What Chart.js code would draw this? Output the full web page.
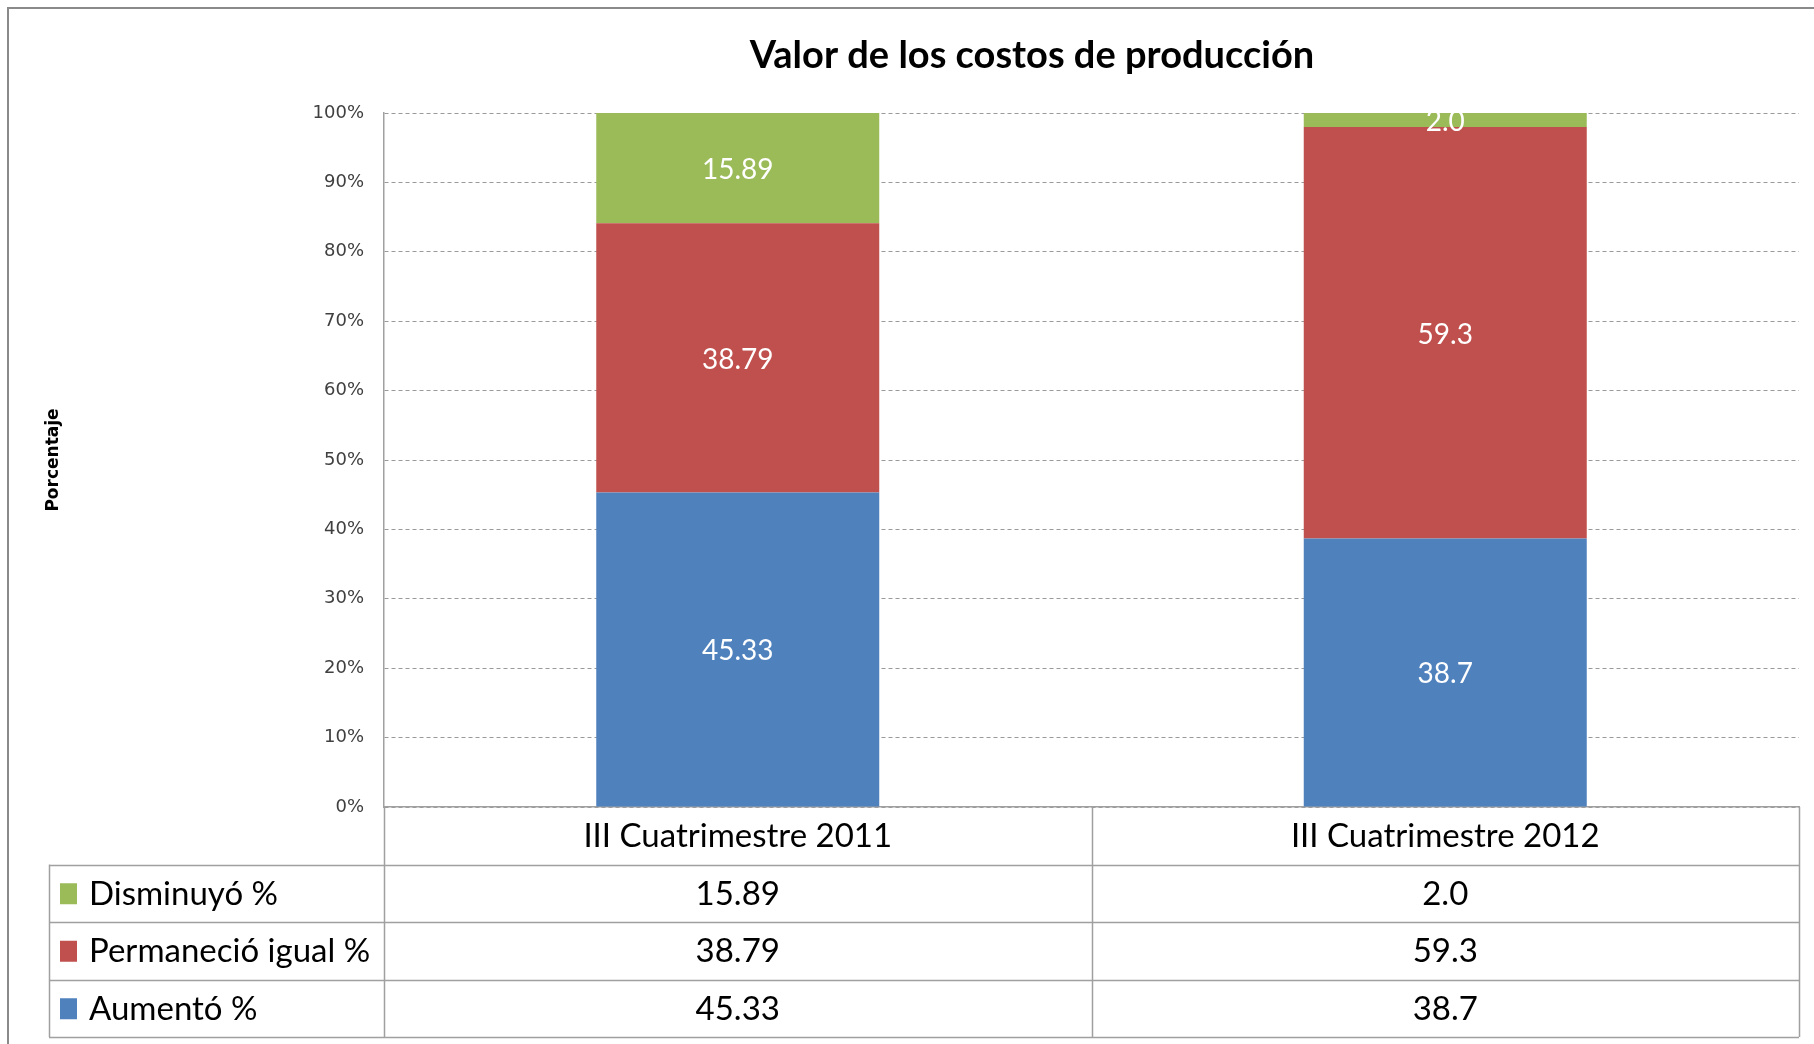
<!DOCTYPE html>
<html>
<head>
<meta charset="utf-8">
<script src="https://cdn.jsdelivr.net/npm/chart.js@4/dist/chart.umd.min.js"></script>
<style>
  html, body { margin: 0; padding: 0; background: #fff; }
  #wrap { position: relative; width: 1814px; height: 1044px; overflow: hidden; }
  #frame { position: absolute; left: 7px; top: 7px; width: 1830px; height: 1060px;
           border-left: 2px solid #8a8a8a; border-top: 2px solid #8a8a8a; }
  #chart { position: absolute; left: 0; top: 0; }
</style>
</head>
<body>
<div id="wrap">
  <div id="frame"></div>
  <canvas id="chart" width="1814" height="1044"></canvas>
</div>
<script>
// chart data
const categories = ['III Cuatrimestre 2011', 'III Cuatrimestre 2012'];
const decimals = [2, 1];
const aumento = [45.33, 38.7];
const permanecio = [38.79, 59.3];
const disminuyo = [15.89, 2.0];
const seriesNames = ['Aumentó %', 'Permaneció igual %', 'Disminuyó %'];
const seriesColors = ['#4f81bd', '#c0504d', '#9bbb59'];
const yTicks = [0, 10, 20, 30, 40, 50, 60, 70, 80, 90, 100];
const chartTitle = 'Valor de los costos de producción';

const BODY_FONT = 'Lato, "Open Sans", sans-serif';
const ROW_H = 57.5;
const GRID_COLOR = '#a0a0a0';

// title sits a bit left of the plot centre, like the original
const titleText = {
    id: 'titleText',
    afterDraw(chart) {
        const ctx = chart.ctx;
        ctx.save();
        ctx.fillStyle = '#000';
        ctx.font = 'bold 38px ' + BODY_FONT;
        ctx.textAlign = 'center';
        ctx.textBaseline = 'middle';
        ctx.fillText(chartTitle, 1032, 56);
        ctx.restore();
    }
};

// white values centred in each stacked segment
const barLabels = {
    id: 'barLabels',
    afterDatasetsDraw(chart) {
        const ctx = chart.ctx;
        ctx.save();
        ctx.fillStyle = '#ffffff';
        ctx.font = '28px ' + BODY_FONT;
        ctx.textAlign = 'center';
        ctx.textBaseline = 'middle';
        chart.data.datasets.forEach((ds, di) => {
            chart.getDatasetMeta(di).data.forEach((bar, i) => {
                let v = ds.data[i];
                ctx.fillText(v.toFixed(decimals[i]), bar.x, (bar.y + bar.base) / 2 + 2);
            });
        });
        ctx.restore();
    }
};

// data table under the x axis, columns follow the category scale
const dataTable = {
    id: 'dataTable',
    afterDraw(chart) {
        const ctx = chart.ctx,
            area = chart.chartArea,
            x = chart.scales.x,
            n = categories.length,
            colW = area.width / n,
            top = area.bottom,
            tableLeft = 49,
            rows = chart.data.datasets.length,
            bottom = top + ROW_H * (rows + 1);
        ctx.save();
        ctx.strokeStyle = GRID_COLOR;
        ctx.lineWidth = 1.5;
        ctx.beginPath();
        // vertical lines
        for (let i = 0; i <= n; i++) {
            let px = Math.round(area.left + i * colW) + 0.5;
            ctx.moveTo(px, top);
            ctx.lineTo(px, bottom);
        }
        ctx.moveTo(tableLeft + 0.5, top + ROW_H);
        ctx.lineTo(tableLeft + 0.5, bottom);
        // horizontal lines
        for (let r = 1; r <= rows + 1; r++) {
            let py = Math.round(top + r * ROW_H) + 0.5;
            ctx.moveTo(tableLeft, py);
            ctx.lineTo(area.right, py);
        }
        ctx.stroke();

        ctx.fillStyle = '#000';
        ctx.font = '33px ' + BODY_FONT;
        ctx.textBaseline = 'middle';
        ctx.textAlign = 'center';
        categories.forEach((c, i) => {
            ctx.fillText(c, x.getPixelForValue(i), top + ROW_H / 2 + 1);
        });
        // rows listed top-down in reverse stack order
        for (let r = 0; r < rows; r++) {
            let di = rows - 1 - r,
                ds = chart.data.datasets[di],
                cy = top + ROW_H * (r + 1.5) + 1;
            ctx.fillStyle = ds.backgroundColor;
            ctx.fillRect(60, cy - 11, 17, 21);
            ctx.fillStyle = '#000';
            ctx.textAlign = 'left';
            ctx.fillText(ds.label, 89, cy);
            ctx.textAlign = 'center';
            ds.data.forEach((v, i) => {
                ctx.fillText(v.toFixed(decimals[i]), x.getPixelForValue(i), cy);
            });
        }
        ctx.restore();
    }
};

const chart = new Chart(document.getElementById('chart'), {
    type: 'bar',
    data: {
        labels: categories,
        datasets: [
            {label: seriesNames[0], data: aumento, backgroundColor: seriesColors[0]},
            {label: seriesNames[1], data: permanecio, backgroundColor: seriesColors[1]},
            {label: seriesNames[2], data: disminuyo, backgroundColor: seriesColors[2]}
        ]
    },
    options: {
        responsive: false,
        animation: false,
        layout: {padding: {left: 0, right: 15, top: 113, bottom: 237}},
        datasets: {
            bar: {barPercentage: 0.4, categoryPercentage: 1, borderWidth: 0}
        },
        plugins: {
            legend: {display: false},
            tooltip: {enabled: false},
            title: {display: false}
        },
        scales: {
            x: {
                stacked: true,
                ticks: {display: false},
                grid: {display: false},
                border: {display: true, color: GRID_COLOR, width: 1.5},
                afterFit(scale) { scale.height = 0; }
            },
            y: {
                stacked: true,
                min: 0,
                max: 100,
                afterBuildTicks(scale) { scale.ticks = yTicks.map(v => ({value: v})); },
                afterFit(scale) { scale.width = 384; },
                ticks: {
                    callback: v => v + '%',
                    color: '#404040',
                    font: {family: '"DejaVu Sans", sans-serif', size: 18},
                    padding: 20
                },
                grid: {
                    color: '#9a9a9a',
                    lineWidth: 1,
                    drawTicks: false
                },
                border: {display: true, color: GRID_COLOR, width: 1.5, dash: [4, 3]},
                title: {
                    display: true,
                    text: 'Porcentaje',
                    color: '#000',
                    font: {family: '"DejaVu Sans", sans-serif', size: 17, weight: 'bold'},
                    padding: {top: 43, bottom: 0}
                }
            }
        }
    },
    plugins: [barLabels, dataTable, titleText]
});
</script>
</body>
</html>
